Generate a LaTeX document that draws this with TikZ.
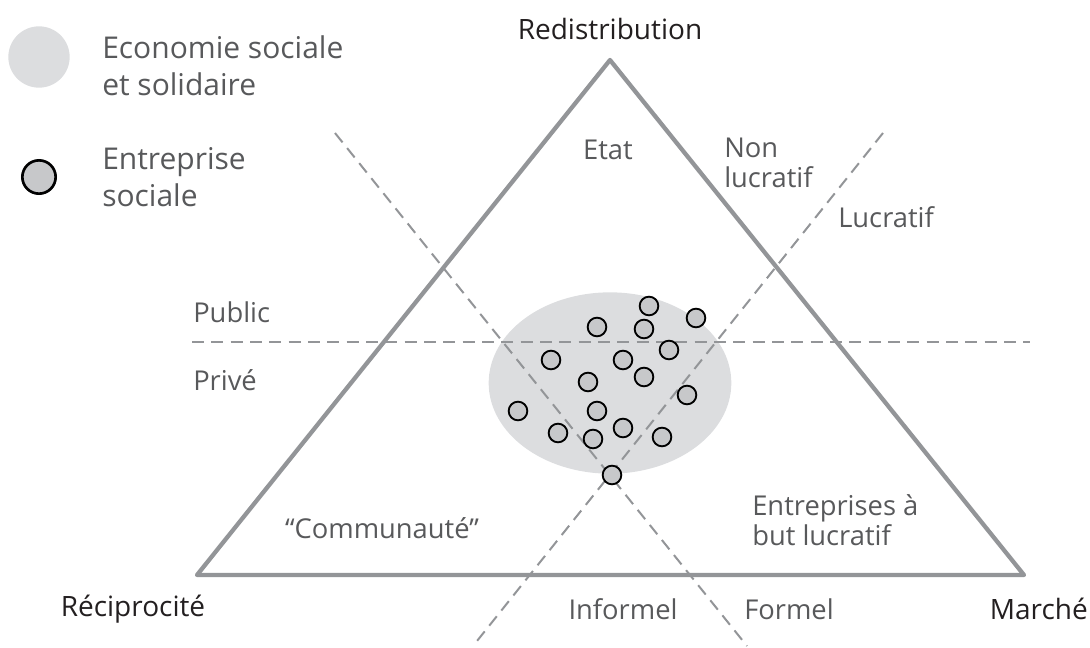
\documentclass[tikz,border=0pt]{standalone}
\usepackage{fontspec}
\setmainfont{Open Sans}
\usepackage{tikz}
\usetikzlibrary{positioning}
\usetikzlibrary{shapes.geometric}

\definecolor{linegray}{HTML}{939598}
\definecolor{txtgray}{HTML}{58595B}
\definecolor{txtdark}{HTML}{231F20}
\definecolor{essfill}{HTML}{DCDDDF}
\definecolor{entfill}{HTML}{C7C8CA}

\begin{document}
\begin{tikzpicture}[x=0.75pt,y=-0.75pt,
    side/.style={draw=linegray,line width=3.2pt,line join=round},
    cut/.style={draw=linegray,line width=1.5pt,dash pattern=on 9pt off 5.5pt},
    pole/.style={text=txtdark,font=\fontsize{21}{26}\selectfont,inner sep=0pt},
    zone/.style={text=txtgray,font=\fontsize{20.5}{23}\selectfont,inner sep=0pt,align=left},
    legtxt/.style={text=txtgray,font=\fontsize{22.5}{27.5}\selectfont,inner sep=0pt,align=left,anchor=west},
    entsoc/.style={circle,draw=black,line width=1.4pt,fill=entfill,minimum size=14pt,inner sep=0pt}]
        \useasboundingbox (0,0) rectangle (1090,647);

        % legende
        \node[circle,fill=essfill,minimum size=46pt,inner sep=0pt] (ess) at (39,57) {};
        \node[legtxt] (esstxt) at (102,66) {Economie sociale\\et solidaire};
        \node[circle,draw=black,line width=2pt,fill=entfill,minimum size=25pt,inner sep=0pt] (ent) at (39,177) {};
        \node[legtxt] (enttxt) at (102,177) {Entreprise\\sociale};

        % economie sociale et solidaire
        \node[ellipse,fill=essfill,minimum width=182pt,minimum height=136pt,inner sep=0pt] (zone) at (610,383) {};

        % triangle
        \coordinate (red) at (610,60);
        \coordinate (rec) at (197,575);
        \coordinate (mar) at (1024,575);
        \draw[side] (red) -- (mar) -- (rec) -- cycle;

        % decoupages
        \coordinate (h1) at (192,342);
        \coordinate (h2) at (1030,342);
        \coordinate (a1) at (335,133);
        \coordinate (a2) at (747,646);
        \coordinate (b1) at (883,133);
        \coordinate (b2) at (473,646);
        \draw[cut] (h1) -- (h2);
        \draw[cut] (a1) -- (a2);
        \draw[cut] (b1) -- (b2);

        % entreprises sociales
        \foreach \px/\py [count=\i] in {649/306,696/318,597/327,644/329,669/350,551/360,
            623/360,644/377,588/382,687/395,518/411,597/411,558/433,623/428,593/439,
            662/437,612/475}
            \node[entsoc] (e\i) at (\px,\py) {};

        % poles
        \node[pole] (redtxt) at (610,29) {Redistribution};
        \node[pole] (rectxt) at (133,609) {Réciprocité};
        \node[pole,anchor=east] (martxt) at (1088,609) {Marché};

        % zones
        \node[zone] (etat) at (608,150) {Etat};
        \node[zone,anchor=west] (nonluc) at (724,163) {Non\\lucratif};
        \node[zone,anchor=west] (luc) at (838,217) {Lucratif};
        \node[zone,anchor=west] (pub) at (193,312) {Public};
        \node[zone,anchor=west] (priv) at (193,380) {Privé};
        \node[zone] (comm) at (382,528) {“Communauté”};
        \node[zone,anchor=west] (ebl) at (752,520) {Entreprises à\\but lucratif};
        \node[zone] (inf) at (623,609) {Informel};
        \node[zone,anchor=west] (form) at (744,609) {Formel};
\end{tikzpicture}
\end{document}
